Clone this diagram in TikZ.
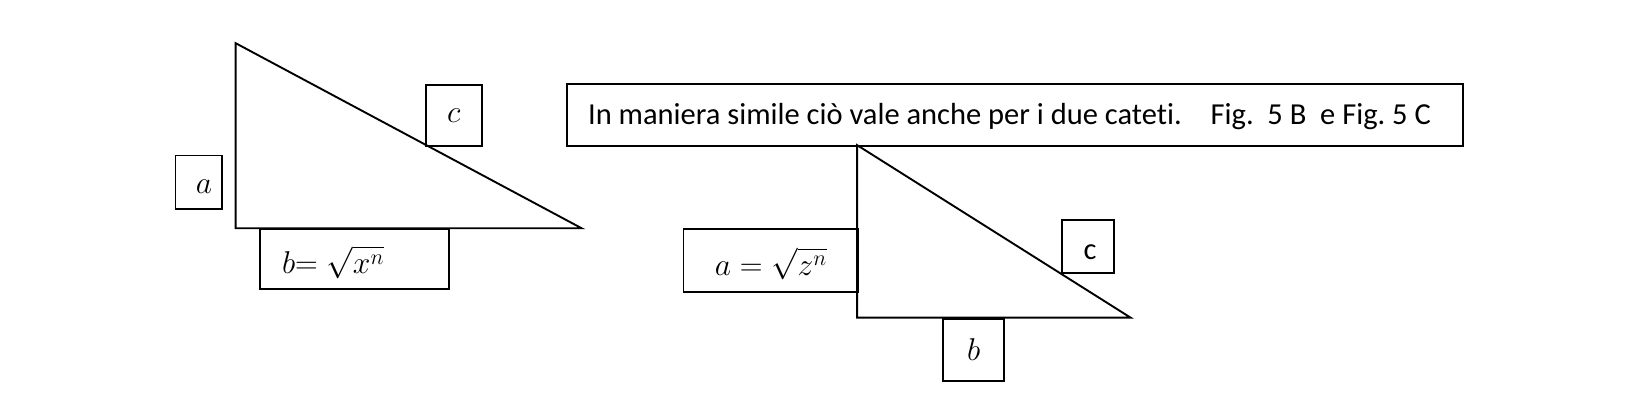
\RequirePackage{fix-cm}
\documentclass[tikz,border=0pt]{standalone}
\usepackage{amsmath}
\usepackage{fontspec}
\setmainfont[Ligatures=NoCommon,RawFeature={-liga}]{Carlito}
\frenchspacing
\begin{document}
\begin{tikzpicture}[x=1pt,y=-1pt,line width=1.8pt,
  bx/.style={draw,line width=1.8pt,inner sep=0pt,anchor=north west},
  lbl/.style={font=\fontsize{29}{33}\selectfont},
  mth/.style={font=\fontsize{30}{34}\selectfont}]
\useasboundingbox (0,0) rectangle (1568,392);
% triangle 1
\coordinate (t1a) at (224,41);
\coordinate (t1b) at (224,217);
\coordinate (t1c) at (553,217);
\draw[line join=miter] (t1a) -- (t1b) -- (t1c) -- cycle;
\node[bx,minimum width=53pt,minimum height=58pt] (c1) at (404,80) {};
\node[mth] at (c1.center) {$c$};
\node[bx,minimum width=44pt,minimum height=51pt] (a1) at (166,147) {};
\node[mth] at ([xshift=5pt,yshift=-4pt]a1.center) {$a$};
\node[bx,minimum width=180pt,minimum height=57pt] (b1) at (246,217) {};
\node[mth,anchor=west] at ([xshift=18pt,yshift=-3pt]b1.west) {$b{=}\;\sqrt{x^n}$};
% text box
\node[bx,minimum width=852pt,minimum height=59pt] (tb) at (538,79) {};
\node[lbl,anchor=west] at ([xshift=17pt,yshift=-1pt]tb.west) {In maniera simile ciò vale anche per i due cateti.\hspace{0.95em}Fig.\ \ 5 B\ \ e Fig. 5 C};
% triangle 2
\coordinate (t2a) at (815,138);
\coordinate (t2b) at (815,302);
\coordinate (t2c) at (1075,302);
\draw[line join=miter] (t2a) -- (t2b) -- (t2c) -- cycle;
\node[bx,minimum width=166pt,minimum height=60pt] (a2) at (649,217) {};
\node[mth] at ([yshift=-3pt]a2.center) {$a=\sqrt{z^n}$};
\node[bx,minimum width=49pt,minimum height=51pt] (c2) at (1009,208) {};
\node[lbl] at ([xshift=2pt,yshift=-5pt]c2.center) {c};
\node[bx,minimum width=58pt,minimum height=59pt] (b2) at (896,302) {};
\node[mth] at (b2.center) {$b$};
\end{tikzpicture}
\end{document}
